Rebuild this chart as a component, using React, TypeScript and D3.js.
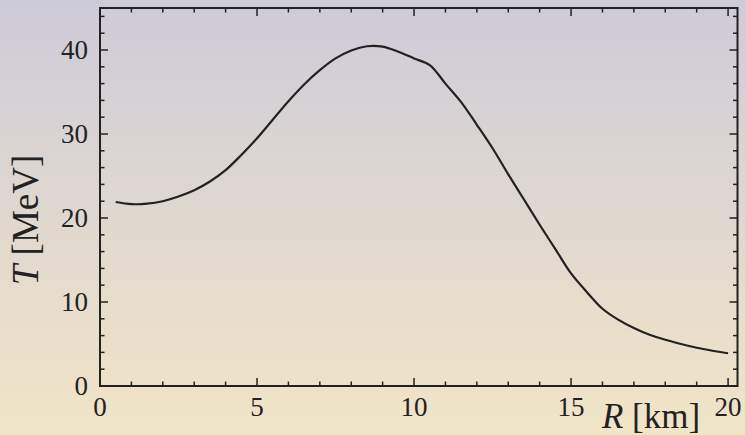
import React from "react";
import * as d3 from "d3";

const radius = [0.5, 1.0, 1.5, 2.0, 2.5, 3.0, 3.5, 4.0, 4.5, 5.0, 5.5, 6.0, 6.5, 7.0, 7.5, 8.0, 8.5, 9.0, 9.5, 10.0, 10.5, 11.0, 11.5, 12.0, 12.5, 13.0, 13.5, 14.0, 14.5, 15.0, 15.5, 16.0, 16.5, 17.0, 17.5, 18.0, 18.5, 19.0, 19.5, 20.0];
const temperature = [21.9, 21.65, 21.7, 22.0, 22.55, 23.3, 24.35, 25.7, 27.5, 29.5, 31.7, 33.9, 35.9, 37.6, 39.0, 39.95, 40.45, 40.4, 39.8, 39.0, 38.2, 36.0, 33.8, 31.1, 28.3, 25.2, 22.2, 19.2, 16.3, 13.4, 11.2, 9.2, 7.9, 6.9, 6.1, 5.5, 5.0, 4.55, 4.2, 3.9];
const xTicks = [0, 5, 10, 15, 20];
const yTicks = [0, 10, 20, 30, 40];

const W = 745, H = 435;
const L = 100, R = 737.5, T = 8, B = 386;
const FONT = "'Liberation Serif', 'DejaVu Serif', serif";

export default function App() {
  const x = d3.scaleLinear().domain([0, 20.3]).range([L, R]);
  const y = d3.scaleLinear().domain([0, 45]).range([B, T]);
  const data = radius.map((r, i) => [r, temperature[i]] as [number, number]);
  const line = d3.line<[number, number]>().x(d => x(d[0])).y(d => y(d[1])).curve(d3.curveCatmullRom.alpha(0.5));
  const xMinor = d3.range(0, 21, 1);
  const yMinor = d3.range(0, 45, 2);
  const ink = "#222";
  return (
    <svg width={W} height={H} style={{ position: "absolute", left: 0, top: 0 }}>
      <defs>
        <linearGradient id="bg" x1="0" y1="0" x2="0" y2="1">
          <stop offset="0" stopColor="#cecbd9" />
          <stop offset="1" stopColor="#f1e5c6" />
        </linearGradient>
      </defs>
      <rect x={0} y={0} width={W} height={H} fill="url(#bg)" />
      <path d={line(data) || ""} fill="none" stroke={ink} strokeWidth={2.2} />
      {xMinor.map(v => {
        const major = v % 5 === 0;
        const len = major ? 8 : 4.5;
        return (
          <g key={"xm" + v}>
            <line x1={x(v)} x2={x(v)} y1={B} y2={B - len} stroke={ink} strokeWidth={1.5} />
            <line x1={x(v)} x2={x(v)} y1={T} y2={T + len} stroke={ink} strokeWidth={1.5} />
          </g>
        );
      })}
      {yMinor.map(v => {
        const major = v % 10 === 0;
        const len = major ? 8 : 4.5;
        return (
          <g key={"ym" + v}>
            <line x1={L} x2={L + len} y1={y(v)} y2={y(v)} stroke={ink} strokeWidth={1.5} />
            <line x1={R} x2={R - len} y1={y(v)} y2={y(v)} stroke={ink} strokeWidth={1.5} />
          </g>
        );
      })}
      <rect x={L} y={T} width={R - L} height={B - T} fill="none" stroke={ink} strokeWidth={2} />
      {xTicks.map(v => (
        <text key={"xt" + v} x={x(v)} y={416} textAnchor="middle" fontFamily={FONT} fontSize={27} fill={ink}>{v}</text>
      ))}
      {yTicks.map(v => (
        <text key={"yt" + v} x={88} y={y(v) + 9} textAnchor="end" fontFamily={FONT} fontSize={27} fill={ink}>{v}</text>
      ))}
      <text x={651} y={428} textAnchor="middle" fontFamily={FONT} fontSize={35} fill={ink}>
        <tspan fontStyle="italic">R</tspan> [km]
      </text>
      <text transform={`translate(38, 220) rotate(-90)`} textAnchor="middle" fontFamily={FONT} fontSize={37} fill={ink}>
        <tspan fontStyle="italic">T</tspan> [MeV]
      </text>
    </svg>
  );
}
